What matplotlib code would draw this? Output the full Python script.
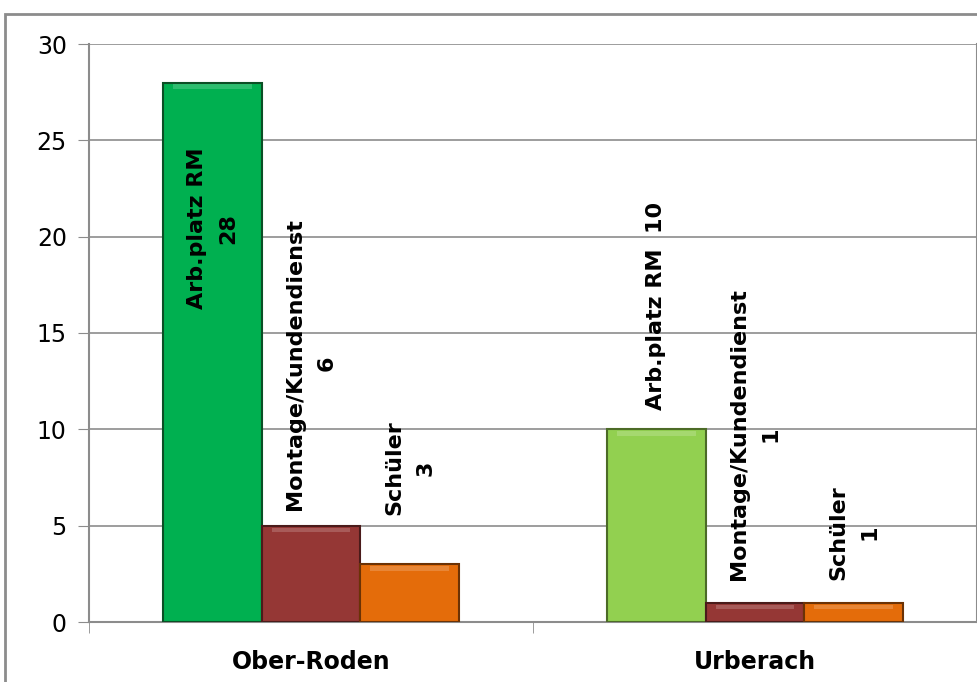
import numpy as np
import matplotlib.pyplot as plt
from matplotlib.patches import Rectangle

plt.rcParams['font.family'] = ['Liberation Sans Narrow', 'DejaVu Sans Condensed', 'DejaVu Sans']

# data
orte = ["Ober-Roden", "Urberach"]
serien = ["Arb.platz RM", "Montage/Kundendienst", "Schüler"]
werte = [[28, 5, 3],
         [10, 1, 1]]
# text of the data labels as printed in the chart
beschriftungen = [["Arb.platz RM\n28", "Montage/Kundendienst\n6", "Schüler\n3"],
                  ["Arb.platz RM  10", "Montage/Kundendienst\n1", "Schüler\n1"]]
farben = [["#00B050", "#953735", "#E46C0A"],
          ["#92D050", "#953735", "#E46C0A"]]
kanten = [["#0B4F25", "#4A1B1A", "#6B3205"],
          ["#4C6B27", "#4A1B1A", "#6B3205"]]
# label gap above the bar top in pixels (negative = inside the bar)
abstand = [[-65, 16, 49],
           [19, 23, 23]]

fig = plt.figure(figsize=(9.78, 6.82), dpi=100)
ax = fig.add_axes([89/978, 1 - 622/682, 888/978, 578/682])

# outer frame of the chart object
fig.patches.append(Rectangle((5/978, -0.2), 1.5, 1 - 14/682 + 0.2, transform=fig.transFigure,
                             fill=False, edgecolor="#8C8C8C", linewidth=2, zorder=0))

px = 72 / 100  # points per pixel
breite = 0.222
for i in range(len(orte)):
    for j in range(len(serien)):
        x = i + (j - 1) * breite
        ax.bar(x, werte[i][j], width=breite, color=farben[i][j],
               edgecolor=kanten[i][j], linewidth=1.5, zorder=3)
        # light strip at top for the bevel look
        ax.bar(x, 0.25, bottom=werte[i][j] - 0.35, width=breite * 0.8,
               color="white", alpha=0.18, linewidth=0, zorder=4)
        d = abstand[i][j]
        ax.annotate(beschriftungen[i][j], (x, werte[i][j]), xytext=(0, d * px),
                    textcoords="offset points", rotation=90, ha="center",
                    va="bottom" if d > 0 else "top", linespacing=1.7,
                    multialignment="center", fontsize=16, fontweight="bold", zorder=5)

ax.set_xlim(-0.5, 1.5)
ax.set_ylim(0, 30)
ax.set_yticks(np.arange(0, 31, 5))
ax.yaxis.grid(True, color="#8C8C8C", linewidth=1.2, zorder=0)
ax.set_axisbelow(True)

ax.set_xticks([0, 1])
ax.set_xticklabels(orte, fontsize=17, fontweight="bold")
ax.set_xticks([-0.5, 0.5, 1.5], minor=True)
ax.tick_params(axis="x", which="major", length=0, pad=20)
ax.tick_params(axis="x", which="minor", length=8, color="#8C8C8C", direction="out")
ax.tick_params(axis="y", length=8, color="#8C8C8C", labelsize=17, pad=8)

for s in ["left", "right", "bottom"]:
    ax.spines[s].set_color("#8C8C8C")
    ax.spines[s].set_linewidth(1.5)
ax.spines["top"].set_visible(False)

fig.savefig("out.png", dpi=100)
